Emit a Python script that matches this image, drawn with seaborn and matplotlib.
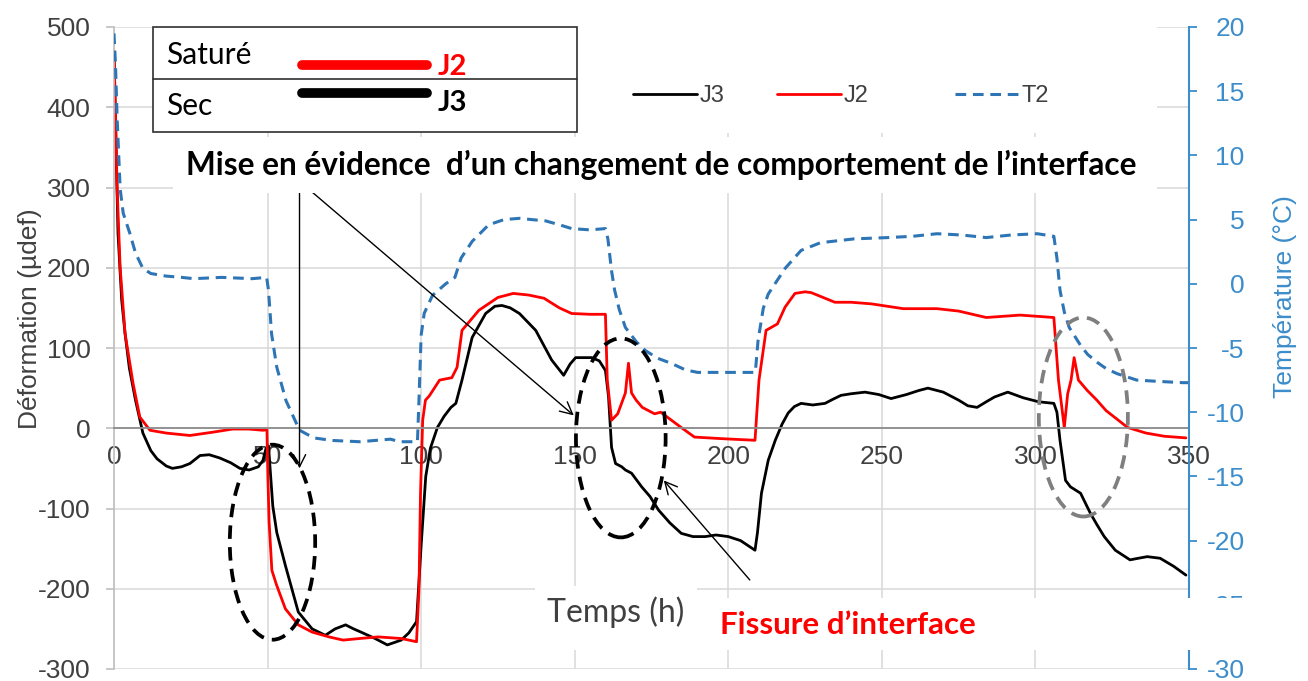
import matplotlib
matplotlib.use("Agg")
import matplotlib.pyplot as plt
import pandas as pd
import seaborn as sns
from matplotlib.patches import Ellipse, Rectangle
from matplotlib.lines import Line2D

# ---- J3 (sec) : deformation in µdef ----
time_j3 = [0, 0.5, 1.3, 2.5, 3.6, 5, 7, 9.4, 12, 14, 17, 19, 22, 24.7, 28, 31, 34.4, 38, 41, 44,
           47, 48.5, 49.5, 50.3, 51.7, 53, 55.8, 60, 64.5, 68.8, 72, 75.4, 78, 80.4, 85, 89, 93.5,
           96, 98.5, 100, 101.5, 103, 105.3, 107.5, 109.7, 111.3, 113.3, 116.6, 121, 124, 126.3,
           129, 132, 137.3, 142.5, 146.4, 148.5, 150.3, 155.5, 158, 160, 161, 162, 163.3, 165.3,
           166.5, 168.5, 171.8, 174.5, 177.3, 181, 184.7, 188.5, 192.5, 196, 200, 204, 208.7,
           209.5, 210.8, 213, 215.3, 217.5, 219.5, 221.5, 223.7, 227.5, 231.5, 234, 236.7, 240,
           244.5, 249, 253, 258, 262, 265, 270, 275, 278, 281, 284, 286.7, 291, 296, 301, 306,
           307, 308, 309.8, 311.4, 314.7, 317.9, 320, 322.4, 326, 330.8, 333.5, 336.4, 340.6,
           345, 349]
def_j3 = [470, 380, 243, 160, 118, 75, 35, -6, -28, -38, -47, -50, -48, -44, -34, -33, -37, -43,
          -50, -52, -48, -40, -25, -22, -97, -130, -171, -229, -250, -258, -250, -245, -250, -254,
          -262, -270, -264, -255, -241, -146, -60, -25, 1, 15, 26, 31, 60, 113, 143, 152, 153,
          150, 143, 122, 85, 66, 80, 88, 88, 84, 72, 40, -24, -44, -48, -52, -56, -73, -85, -102,
          -118, -131, -135, -135, -133, -135, -140, -152, -130, -81, -40, -15, 5, 19, 27, 31, 29,
          31, 36, 41, 43, 45, 42, 37, 42, 47, 50, 45, 35, 28, 26, 33, 39, 45, 38, 33, 31, 20,
          -15, -65, -73, -81, -106, -120, -135, -152, -164, -162, -160, -162, -172, -183]

# ---- J2 (saturé) : deformation in µdef ----
time_j2 = [0, 0.3, 1, 2, 3.6, 6.2, 8.4, 11.7, 17, 24.7, 32, 38.6, 44, 48.4, 49.8, 50.1, 50.5,
           51.4, 52.9, 55.8, 60, 64.5, 70, 74.6, 80, 86, 93.5, 98.5, 99.3, 99.8, 100.5, 101.4,
           102.6, 106, 110, 111.7, 113.3, 118.8, 125, 130, 135, 140, 145, 149, 155, 160, 160.6,
           162, 164, 166.5, 167.5, 168.5, 170, 172, 176, 178, 181.5, 185, 189, 198, 208.7, 209.3,
           210, 212.3, 216, 218.5, 221.7, 225, 227, 234.7, 240, 246.6, 257, 268, 275, 284, 295,
           306, 307.5, 309.4, 310.5, 311.6, 312.6, 314, 316.9, 320, 323, 330, 336, 342, 349]
def_j2 = [470, 420, 300, 200, 118, 56, 14, -2.5, -6, -9, -5, -1, -1, -2.5, -2, -60, -117, -177,
          -195, -225, -245, -254, -260, -264, -262, -260, -262, -266, -200, -80, 10, 35, 40, 60,
          63, 76, 122, 147, 163, 168, 166, 162, 150, 143, 142, 142, 60, 10, 18, 44, 81, 44, 35,
          26, 18, 20, 10, 0, -11, -13, -15, 20, 60, 122, 130, 151, 168, 170, 169, 157, 157, 155,
          149, 149, 146, 138, 141, 138, 60, 1, 43, 60, 88, 60, 47, 35, 22, 1, -6, -10, -12]

# ---- T2 : temperature in °C ----
time_t2 = [0, 0.5, 1, 2, 3, 5.2, 7, 9.4, 12, 17, 22, 26, 35, 45, 49.7, 50.3, 51.3, 53, 56, 60.4,
           65, 71, 80, 90, 93, 98.8, 99.3, 100, 101, 103.7, 108, 111, 113, 116.6, 122, 127, 132,
           136, 140.5, 145, 149, 155, 160, 160.8, 162, 163, 164.5, 166.5, 170, 173, 177, 181.5,
           186, 190, 200, 208.8, 209.7, 211.4, 213, 218.5, 223.7, 230, 241, 252, 260, 268, 276,
           284, 292, 300.6, 306, 307, 308, 309.4, 311, 314.7, 317, 320, 323, 326.6, 333, 340,
           348, 350]
temp_t2 = [19.5, 17, 13, 7.4, 5.5, 3.9, 2.4, 1.2, 0.8, 0.6, 0.5, 0.4, 0.5, 0.4, 0.5, -0.5, -3.9,
           -6.5, -9.1, -11.4, -12.0, -12.2, -12.3, -12.1, -12.3, -12.3, -9, -4, -2.3, -0.9, 0,
           0.5, 2.0, 3.3, 4.6, 5.0, 5.1, 5.0, 4.9, 4.6, 4.3, 4.2, 4.3, 3.5, 1.0, -0.5, -2.0,
           -3.4, -4.5, -5.2, -5.8, -6.2, -6.7, -6.9, -6.9, -6.9, -4.4, -1.9, -0.8, 1.2, 2.6, 3.2,
           3.5, 3.6, 3.7, 3.9, 3.8, 3.6, 3.8, 3.9, 3.7, 2.0, -0.5, -2.2, -3.4, -4.8, -5.5, -6.1,
           -6.6, -7.0, -7.5, -7.6, -7.7, -7.7]

x_ticks = [0, 50, 100, 150, 200, 250, 300, 350]
y_ticks = [-300, -200, -100, 0, 100, 200, 300, 400, 500]
t_ticks = [-30, -25, -20, -15, -10, -5, 0, 5, 10, 15, 20]
series_names = ["J3", "J2", "T2"]

sns.set_style("white")
plt.rcParams["font.family"] = ["Liberation Sans", "DejaVu Sans"]
plt.rcParams["axes.unicode_minus"] = False

W, H = 1308, 681
RED = "#FF0000"
BLUE = "#2E75B6"
AXBLUE = "#3C8DCB"
TXT = "#404040"
GRID = "#D9D9D9"


def fx(x):
    return x / W


def fy(y):
    return 1 - y / H


fig = plt.figure(figsize=(W / 100, H / 100), dpi=100)
ax = fig.add_axes([fx(114), fy(669), (1189 - 114) / W, (669 - 27) / H])
ax2 = ax.twinx()

df_j3 = pd.DataFrame({"t": time_j3, "d": def_j3})
df_j2 = pd.DataFrame({"t": time_j2, "d": def_j2})
df_t2 = pd.DataFrame({"t": time_t2, "T": temp_t2})

sns.lineplot(data=df_j3, x="t", y="d", ax=ax, color="black", lw=2.0,
             sort=False, estimator=None, legend=False)
sns.lineplot(data=df_j2, x="t", y="d", ax=ax, color=RED, lw=2.0,
             sort=False, estimator=None, legend=False)
sns.lineplot(data=df_t2, x="t", y="T", ax=ax2, color=BLUE, lw=2.2,
             sort=False, estimator=None, legend=False)
ax2.lines[0].set_dashes((3.5, 2.2))

# left axis
ax.set_xlim(0, 350)
ax.set_ylim(-300, 500)
ax.set_xticks(x_ticks)
ax.set_yticks(y_ticks)
ax.grid(True, color=GRID, lw=1.1)
ax.set_axisbelow(True)
ax.set_xlabel("")
ax.set_ylabel("Déformation (µdef)", fontsize=19, color=TXT)
ax.yaxis.label.set_ha("center")
ax.yaxis.label.set_va("center")
ax.yaxis.set_label_coords(-0.078, 0.545)
for s in ["top", "right"]:
    ax.spines[s].set_visible(False)
ax.spines["bottom"].set_position(("data", 0))
ax.spines["bottom"].set_color("#8C8C8C")
ax.spines["bottom"].set_linewidth(1.3)
ax.spines["left"].set_color("#BFBFBF")
ax.spines["left"].set_linewidth(1.2)
ax.tick_params(axis="x", length=0, pad=12, labelsize=19, labelcolor=TXT)
ax.tick_params(axis="y", direction="out", length=6, width=1.2, color="#BFBFBF",
               labelsize=19, labelcolor=TXT, pad=11)

# right axis
ax2.set_ylim(-30, 20)
ax2.set_yticks(t_ticks)
ax2.set_xlabel("")
ax2.set_ylabel("Température (°C)", fontsize=19, color=AXBLUE)
ax2.yaxis.label.set_ha("center")
ax2.yaxis.label.set_va("center")
ax2.yaxis.set_label_coords(1.089, 0.58)
for s in ["top", "left", "bottom"]:
    ax2.spines[s].set_visible(False)
ax2.spines["right"].set_color(AXBLUE)
ax2.spines["right"].set_linewidth(1.5)
ax2.tick_params(axis="y", direction="out", length=6, width=1.3, color=AXBLUE,
                labelsize=19, labelcolor=AXBLUE, pad=34)
for lab in ax2.get_yticklabels():
    lab.set_ha("right")

# dashed ellipses around the behaviour changes (data coordinates)
ell_specs = [((51.6, -142), 27.8, 243, "black"),
             ((165.0, -12), 29.2, 248, "black"),
             ((315.6, 14), 29.0, 248, "#7F7F7F")]
for (cx, cy), w, h, col in ell_specs:
    e = Ellipse((cx, cy), w, h, transform=ax.transData, fill=False, edgecolor=col,
                lw=2.7, linestyle=(0, (3.6, 2.2)), zorder=10)
    ax2.add_patch(e)

# arrows
arrow_kw = dict(arrowstyle="->", lw=1.0, color="black", shrinkA=0, shrinkB=0,
                mutation_scale=22)
ax2.annotate("", xy=(60.4, -50), xytext=(60.4, 294), xycoords=ax.transData,
             textcoords=ax.transData, arrowprops=arrow_kw)
ax2.annotate("", xy=(149.7, 16), xytext=(64.6, 294), xycoords=ax.transData,
             textcoords=ax.transData, arrowprops=arrow_kw)
ax2.annotate("", xy=(179.0, -65), xytext=(207.0, -189), xycoords=ax.transData,
             textcoords=ax.transData, arrowprops=arrow_kw)

# white backgrounds behind the text blocks
for x0, y0, x1, y1 in [(577, 27, 1157, 133), (173, 137, 1157, 193),
                       (535, 586, 697, 650), (697, 598, 1308, 650)]:
    fig.add_artist(Rectangle((fx(x0), fy(y1)), (x1 - x0) / W, (y1 - y0) / H,
                             transform=fig.transFigure, facecolor="white",
                             edgecolor="none", zorder=4))

# series legend, one entry per position
leg_handles = [Line2D([], [], color="black", lw=2.0),
               Line2D([], [], color=RED, lw=2.0),
               Line2D([], [], color=BLUE, lw=2.2, dashes=(3.5, 2.2))]
leg_x = [633, 777, 955]
for hnd, name, x0 in zip(leg_handles, series_names, leg_x):
    leg = fig.legend([hnd], [name], frameon=False, loc="center left",
                     bbox_to_anchor=(fx(x0), fy(96)), bbox_transform=fig.transFigure,
                     borderpad=0, borderaxespad=0, handlelength=2.7, handletextpad=0.12,
                     prop={"family": ["Liberation Sans Narrow", "Liberation Sans"], "size": 17})
    for t in leg.get_texts():
        t.set_color(TXT)
    leg.set_zorder(6)

# sample box (Saturé / Sec)
fig.add_artist(Rectangle((fx(153), fy(132)), (577 - 153) / W, (132 - 27) / H,
                         transform=fig.transFigure, facecolor="white",
                         edgecolor="#303030", lw=1.2, zorder=6))
fig.add_artist(Line2D([fx(153), fx(577)], [fy(79), fy(79)], transform=fig.transFigure,
                      color="#303030", lw=1.2, zorder=7))
fig.add_artist(Line2D([fx(302), fx(427)], [fy(65), fy(65)], transform=fig.transFigure,
                      color=RED, lw=7, solid_capstyle="round", zorder=7))
fig.add_artist(Line2D([fx(302), fx(427)], [fy(93), fy(93)], transform=fig.transFigure,
                      color="black", lw=7, solid_capstyle="round", zorder=7))
cal = ["Lato", "DejaVu Sans"]
fig.text(fx(166), fy(55), "Saturé", family=cal, fontsize=21.5, color="black",
         ha="left", va="center", zorder=8)
fig.text(fx(166), fy(106), "Sec", family=cal, fontsize=21.5, color="black",
         ha="left", va="center", zorder=8)
fig.text(fx(438), fy(67), "J2", family=cal, fontsize=21, fontweight="bold", color=RED,
         ha="left", va="center", zorder=8)
fig.text(fx(438), fy(103), "J3", family=cal, fontsize=21, fontweight="bold", color="black",
         ha="left", va="center", zorder=8)

# annotations
fig.text(fx(661), fy(165), "Mise en évidence  d\u2019un changement de comportement de l\u2019interface",
         family=cal, fontsize=22.8, fontweight="bold", color="black", ha="center", va="center",
         zorder=8)
fig.text(fx(616), fy(612), "Temps (h)", family=cal, fontsize=23, color=TXT,
         ha="center", va="center", zorder=8)
fig.text(fx(848), fy(625), "Fissure d\u2019interface", family=cal, fontsize=22.5,
         fontweight="bold", color=RED, ha="center", va="center", zorder=8)

fig.savefig("out.png", dpi=100, facecolor="white")
